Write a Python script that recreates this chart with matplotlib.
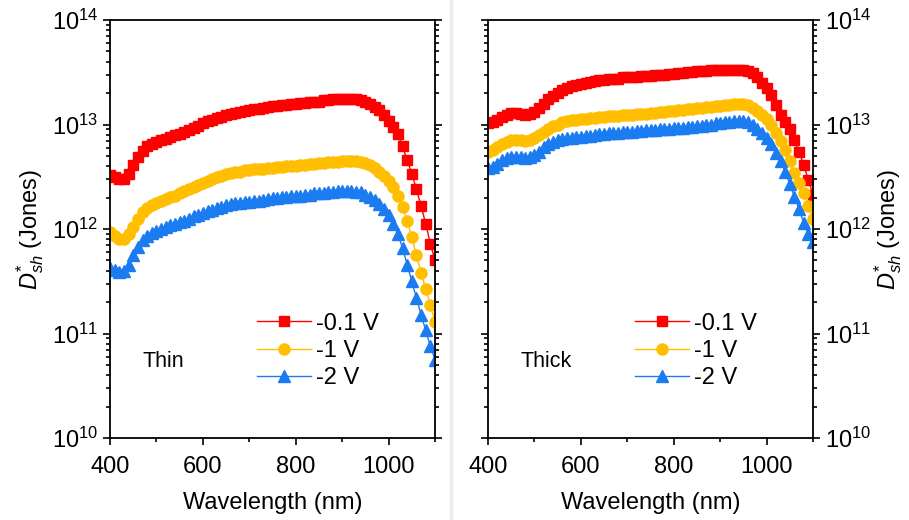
import numpy as np
import matplotlib
matplotlib.use("Agg")
import matplotlib.pyplot as plt
from matplotlib.ticker import LogLocator, MultipleLocator, NullFormatter
from matplotlib.lines import Line2D

plt.rcParams['font.family'] = ['Liberation Sans', 'DejaVu Sans']
plt.rcParams['mathtext.fontset'] = 'custom'
plt.rcParams['mathtext.rm'] = 'Liberation Sans'
plt.rcParams['mathtext.it'] = 'Liberation Sans:italic'

# wavelength grid (nm), 10 nm step
wavelength = np.arange(400, 1101, 10)

# log10 of D*_sh (Jones)
thin_01V = [12.52, 12.50, 12.48, 12.48, 12.53, 12.61, 12.69, 12.75, 12.79, 12.81,
            12.83, 12.85, 12.86, 12.88, 12.90, 12.91, 12.93, 12.95, 12.97, 12.99,
            13.01, 13.03, 13.04, 13.06, 13.07, 13.09, 13.10, 13.11, 13.12, 13.13,
            13.14, 13.15, 13.15, 13.16, 13.17, 13.18, 13.18, 13.19, 13.19, 13.20,
            13.20, 13.21, 13.21, 13.22, 13.22, 13.22, 13.23, 13.23, 13.24, 13.24,
            13.24, 13.24, 13.24, 13.24, 13.23, 13.22, 13.20, 13.17, 13.14, 13.09,
            13.03, 12.98, 12.91, 12.79, 12.66, 12.53, 12.38, 12.22, 12.05, 11.86,
            11.70]
thin_1V = [11.97, 11.93, 11.90, 11.90, 11.95, 12.02, 12.10, 12.16, 12.20, 12.23,
           12.25, 12.27, 12.29, 12.31, 12.32, 12.34, 12.36, 12.38, 12.40, 12.42,
           12.44, 12.46, 12.48, 12.50, 12.51, 12.53, 12.54, 12.55, 12.55, 12.56,
           12.56, 12.57, 12.57, 12.57, 12.58, 12.58, 12.59, 12.59, 12.60, 12.60,
           12.60, 12.61, 12.61, 12.62, 12.62, 12.63, 12.63, 12.64, 12.64, 12.64,
           12.65, 12.65, 12.65, 12.65, 12.64, 12.63, 12.61, 12.58, 12.55, 12.51,
           12.46, 12.40, 12.32, 12.21, 12.08, 11.92, 11.75, 11.58, 11.43, 11.27,
           11.11]
thin_2V = [11.63, 11.61, 11.59, 11.60, 11.66, 11.75, 11.83, 11.89, 11.93, 11.96,
           11.98, 12.00, 12.02, 12.04, 12.05, 12.07, 12.08, 12.10, 12.12, 12.13,
           12.15, 12.17, 12.18, 12.20, 12.21, 12.23, 12.24, 12.25, 12.25, 12.26,
           12.26, 12.27, 12.27, 12.28, 12.29, 12.30, 12.30, 12.31, 12.31, 12.32,
           12.32, 12.32, 12.33, 12.33, 12.34, 12.34, 12.34, 12.35, 12.35, 12.36,
           12.36, 12.36, 12.36, 12.35, 12.35, 12.33, 12.31, 12.28, 12.24, 12.19,
           12.13, 12.05, 11.95, 11.82, 11.66, 11.50, 11.34, 11.18, 11.03, 10.88,
           10.75]

thick_01V = [13.01, 13.02, 13.04, 13.07, 13.09, 13.11, 13.11, 13.10, 13.09, 13.10,
             13.12, 13.16, 13.20, 13.24, 13.27, 13.30, 13.33, 13.35, 13.37, 13.38,
             13.39, 13.40, 13.41, 13.42, 13.43, 13.43, 13.44, 13.44, 13.44, 13.45,
             13.45, 13.45, 13.45, 13.46, 13.46, 13.46, 13.47, 13.47, 13.47, 13.48,
             13.48, 13.49, 13.49, 13.50, 13.50, 13.51, 13.51, 13.51, 13.52, 13.52,
             13.52, 13.52, 13.52, 13.52, 13.52, 13.52, 13.51, 13.49, 13.45, 13.40,
             13.35, 13.28, 13.19, 13.09, 13.02, 12.96, 12.85, 12.74, 12.61, 12.47,
             12.33]
thick_1V = [12.74, 12.76, 12.78, 12.81, 12.83, 12.85, 12.85, 12.85, 12.84, 12.85,
            12.87, 12.90, 12.93, 12.96, 12.99, 13.00, 13.02, 13.03, 13.04, 13.04,
            13.05, 13.05, 13.06, 13.06, 13.07, 13.07, 13.08, 13.08, 13.08, 13.09,
            13.09, 13.09, 13.10, 13.10, 13.10, 13.11, 13.11, 13.12, 13.12, 13.13,
            13.13, 13.14, 13.14, 13.15, 13.15, 13.16, 13.16, 13.17, 13.17, 13.18,
            13.18, 13.19, 13.19, 13.20, 13.20, 13.20, 13.19, 13.16, 13.13, 13.09,
            13.05, 13.00, 12.92, 12.84, 12.76, 12.65, 12.54, 12.44, 12.34, 12.22,
            12.10]
thick_2V = [12.58, 12.59, 12.62, 12.66, 12.68, 12.69, 12.69, 12.69, 12.68, 12.69,
            12.71, 12.74, 12.78, 12.81, 12.83, 12.85, 12.86, 12.87, 12.87, 12.88,
            12.88, 12.89, 12.89, 12.90, 12.91, 12.91, 12.92, 12.92, 12.92, 12.93,
            12.93, 12.93, 12.94, 12.94, 12.95, 12.95, 12.95, 12.96, 12.96, 12.96,
            12.97, 12.97, 12.97, 12.98, 12.98, 12.99, 12.99, 13.00, 13.00, 13.01,
            13.01, 13.02, 13.02, 13.03, 13.03, 13.03, 13.02, 13.00, 12.96, 12.92,
            12.87, 12.81, 12.73, 12.65, 12.55, 12.43, 12.31, 12.19, 12.06, 11.95,
            11.88]

labels = ['-0.1 V', '-1 V', '-2 V']
colors = ['#ff0000', '#ffbf00', '#1a7cf0']
markers = ['s', 'o', '^']
msizes = [7.5, 8, 8.5]

fig = plt.figure(figsize=(9.09, 5.2), dpi=100)
W, H = 909, 520
ax1 = fig.add_axes([110 / W, 82 / H, 325 / W, 418 / H])
ax2 = fig.add_axes([488 / W, 82 / H, 325 / W, 418 / H])

# faint separator between the two pictures
fig.add_artist(Line2D([451 / W, 451 / W], [0, 1], transform=fig.transFigure,
                      color='#ececec', lw=2.5))

panels = [(ax1, [thin_01V, thin_1V, thin_2V], 'Thin'),
          (ax2, [thick_01V, thick_1V, thick_2V], 'Thick')]

for ax, series, name in panels:
    for vals, lab, c, m, ms in zip(series, labels, colors, markers, msizes):
        ax.plot(wavelength, 10 ** np.array(vals), '-', marker=m, color=c,
                ms=ms, mec=c, mfc=c, lw=1, label=lab)
    ax.set_yscale('log')
    ax.set_xlim(400, 1100)
    ax.set_ylim(1e10, 1e14)
    ax.xaxis.set_major_locator(MultipleLocator(200))
    ax.xaxis.set_minor_locator(MultipleLocator(100))
    ax.yaxis.set_major_locator(LogLocator(base=10, numticks=10))
    ax.yaxis.set_minor_locator(LogLocator(base=10, subs=np.arange(2, 10), numticks=20))
    ax.yaxis.set_minor_formatter(NullFormatter())
    ax.tick_params(which='both', direction='out', top=False, right=True,
                   width=1.2, labelsize=17)
    ax.tick_params(which='major', length=5)
    ax.tick_params(which='minor', length=3)
    ax.tick_params(axis='x', pad=8)
    for sp in ax.spines.values():
        sp.set_linewidth(1.3)
    ax.set_xlabel('Wavelength (nm)', fontsize=17, labelpad=10)
    ax.text(0.10, 0.182, name, transform=ax.transAxes, fontsize=15.5, va='center')
    ax.legend(loc='upper left', bbox_to_anchor=(0.452, 0.30), frameon=False,
              fontsize=17, handlelength=2.3, handletextpad=0.2,
              labelspacing=0.23, borderpad=0, borderaxespad=0)

ylab = r'$D^{*}_{sh}$ (Jones)'
ax1.tick_params(axis='y', labelleft=True, labelright=False)
ax1.set_ylabel(ylab, fontsize=17, labelpad=4)
ax2.tick_params(axis='y', labelleft=False, labelright=True)
ax2.yaxis.set_label_position('right')
ax2.set_ylabel(ylab, fontsize=17, labelpad=1)

fig.savefig('out.png', dpi=100)
